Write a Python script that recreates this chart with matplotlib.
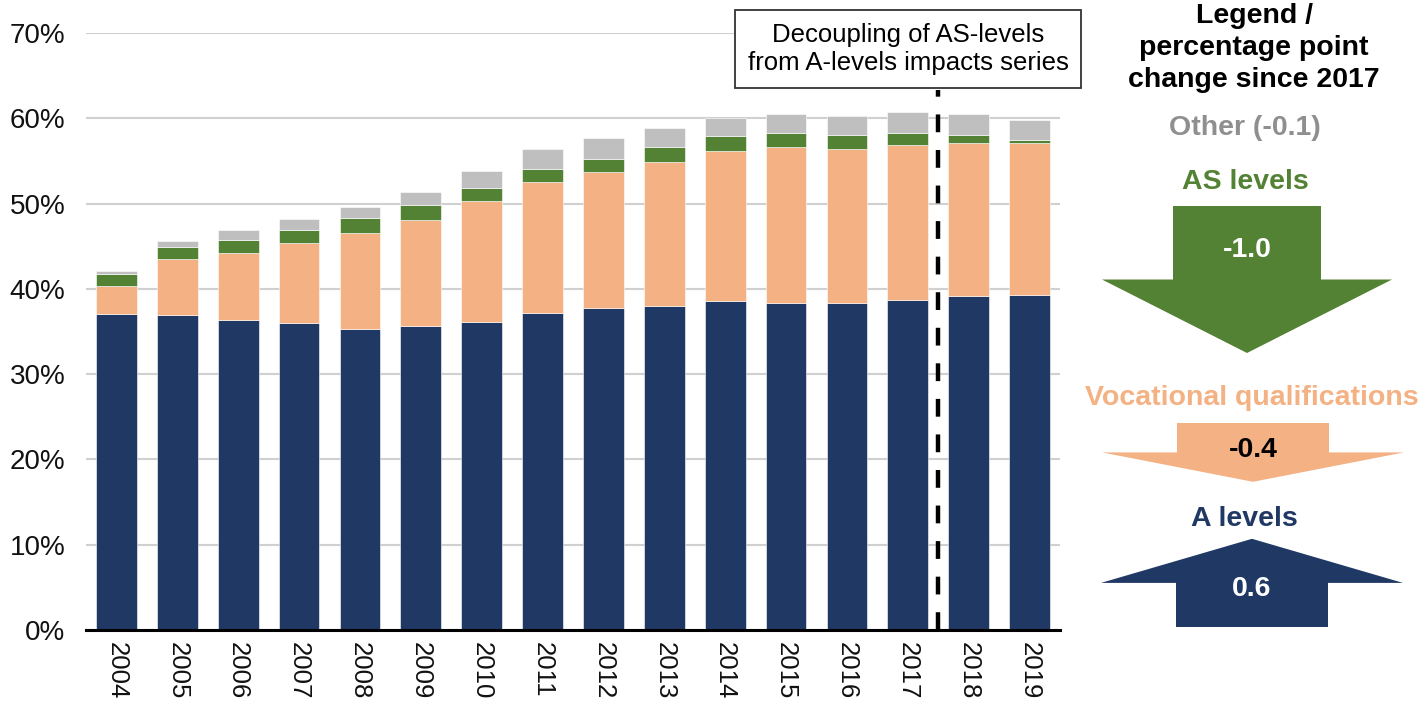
import matplotlib
matplotlib.use("Agg")
import matplotlib.pyplot as plt
from matplotlib.patches import Polygon
import numpy as np

plt.rcParams['font.family'] = ['Liberation Sans', 'DejaVu Sans']

# Share of cohort by qualification route (%)
years = ['2004', '2005', '2006', '2007', '2008', '2009', '2010', '2011',
         '2012', '2013', '2014', '2015', '2016', '2017', '2018', '2019']
a_levels = [37.1, 36.9, 36.4, 36.0, 35.3, 35.7, 36.1, 37.2,
            37.7, 38.0, 38.6, 38.3, 38.3, 38.7, 39.2, 39.3]
vocational = [3.2, 6.6, 7.8, 9.4, 11.3, 12.4, 14.2, 15.3,
              16.0, 16.9, 17.6, 18.3, 18.1, 18.2, 17.9, 17.8]
as_levels = [1.5, 1.4, 1.5, 1.5, 1.7, 1.7, 1.5, 1.5,
             1.5, 1.7, 1.7, 1.7, 1.6, 1.4, 0.9, 0.4]
other = [0.3, 0.7, 1.2, 1.3, 1.3, 1.5, 2.0, 2.4,
         2.5, 2.3, 2.1, 2.2, 2.3, 2.4, 2.5, 2.3]
y_ticks = [0, 10, 20, 30, 40, 50, 60, 70]

NAVY = '#203864'
PEACH = '#F4B183'
GREEN = '#548235'
GREY = '#BFBFBF'

W, H = 1427, 704
fig = plt.figure(figsize=(W / 100, H / 100), dpi=100)
ax = fig.add_axes([86 / W, 1 - 630 / H, (1060 - 86) / W, (630 - 33) / H])

x = np.arange(len(years))
series = [(a_levels, NAVY), (vocational, PEACH), (as_levels, GREEN), (other, GREY)]
bottom = np.zeros(len(years))
for vals, col in series:
    v = np.array(vals)
    ax.bar(x, v, bottom=bottom, width=0.67, color=col,
           edgecolor='white', linewidth=0.4, zorder=2)
    bottom += v

ax.set_xlim(-0.5, len(years) - 0.5)
ax.set_ylim(0, 70)
ax.set_yticks(y_ticks)
ax.set_yticklabels([f'{t}%' for t in y_ticks], fontsize=20, color='#111111')
ax.set_xticks(x)
ax.set_xticklabels(years, rotation=-90, fontsize=18.5, color='#111111')
ax.tick_params(axis='both', length=0)
ax.tick_params(axis='y', pad=15)
ax.tick_params(axis='x', pad=9)
ax.grid(axis='y', color='#D0D0D0', linewidth=1.5, zorder=0)
ax.set_axisbelow(True)
for side in ['left', 'right', 'top']:
    ax.spines[side].set_visible(False)
ax.spines['bottom'].set_linewidth(2.2)
ax.spines['bottom'].set_color('black')
ax.spines['bottom'].set_zorder(3)

# Series break between 2017 and 2018
ax.axvline(13.5, ymin=0, ymax=(630 - 90) / (630 - 33), color='black',
           linewidth=3.2, linestyle=(0, (4, 4)), zorder=3)

# Overlay in pixel coordinates for annotations and legend panel
ov = fig.add_axes([0, 0, 1, 1], facecolor='none')
ov.set_xlim(0, W)
ov.set_ylim(H, 0)
ov.axis('off')

ov.text(908, 49, 'Decoupling of AS-levels\nfrom A-levels impacts series',
        ha='center', va='center', fontsize=18.5, linespacing=1.25,
        bbox=dict(boxstyle='square,pad=0.5', facecolor='white',
                  edgecolor='#333333', linewidth=1.3))

# Legend panel: change since 2017, arrow length proportional to the change
i0, i1 = years.index('2017'), years.index('2019')
chg = {name: round(vals[i1] - vals[i0], 1) for name, vals in
       [('a', a_levels), ('voc', vocational), ('as', as_levels), ('other', other)]}

LFS = 20.5
for y, s in [(23, 'Legend /'), (55, 'percentage point'), (87, 'change since 2017')]:
    ov.text(1254, y, s, ha='center', va='baseline', fontsize=LFS,
            fontweight='bold', color='black')

ov.text(1245, 128, f"Other ({chg['other']:.1f})", ha='center', va='center',
        fontsize=LFS, fontweight='bold', color='#8F8F8F')


def draw_arrow(base_y, value, color, cx=1250, wing=148, shaft=75, px_per_pt=147):
    length = abs(value) * px_per_pt
    d = 1 if value < 0 else -1
    sh = length / 2
    pts = [(cx - shaft, base_y), (cx + shaft, base_y),
           (cx + shaft, base_y + d * sh), (cx + wing, base_y + d * sh),
           (cx, base_y + d * length), (cx - wing, base_y + d * sh),
           (cx - shaft, base_y + d * sh)]
    ov.add_patch(Polygon(pts, closed=True, facecolor=color, edgecolor='none'))


ov.text(1245, 182, 'AS levels', ha='center', va='center', fontsize=LFS,
        fontweight='bold', color=GREEN)
draw_arrow(206, chg['as'], GREEN, cx=1247, wing=145, shaft=74)
ov.text(1247, 250, f"{chg['as']:.1f}", ha='center', va='center', fontsize=LFS,
        fontweight='bold', color='white')

ov.text(1252, 398, 'Vocational qualifications', ha='center', va='center',
        fontsize=LFS, fontweight='bold', color=PEACH)
draw_arrow(423, chg['voc'], PEACH, cx=1253, wing=151, shaft=76)
ov.text(1253, 450, f"{chg['voc']:.1f}", ha='center', va='center', fontsize=LFS,
        fontweight='bold', color='black')

ov.text(1244, 519, 'A levels', ha='center', va='center', fontsize=LFS,
        fontweight='bold', color=NAVY)
draw_arrow(627, chg['a'], NAVY, cx=1252, wing=151, shaft=76)
ov.text(1252, 589, f"{chg['a']:.1f}", ha='center', va='center', fontsize=LFS,
        fontweight='bold', color='white')

fig.savefig('out.png', dpi=100)
